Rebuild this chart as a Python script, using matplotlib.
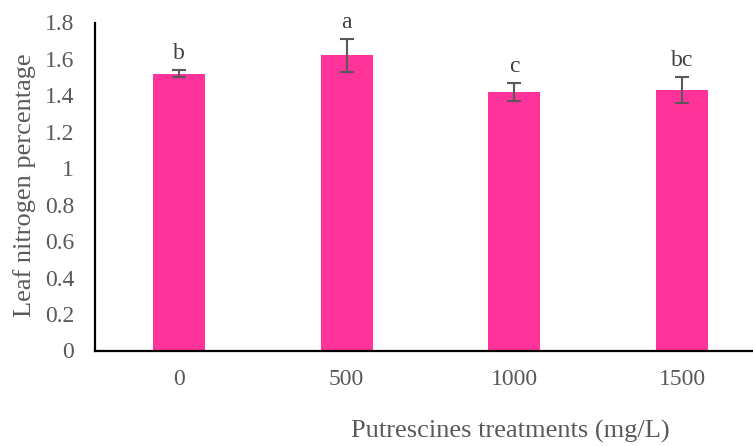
import matplotlib
matplotlib.use("Agg")
import matplotlib.pyplot as plt
import numpy as np

categories = ["0", "500", "1000", "1500"]
values = [1.52, 1.62, 1.42, 1.43]
errors = [0.02, 0.09, 0.05, 0.07]
letters = ["b", "a", "c", "bc"]
yticks = [0, 0.2, 0.4, 0.6, 0.8, 1, 1.2, 1.4, 1.6, 1.8]

plt.rcParams['font.family'] = ['Liberation Serif', 'DejaVu Serif']

W, H = 753, 446
fig = plt.figure(figsize=(W/100, H/100), dpi=100)
left, right, bottom, top = 95, 766, 350.5, 22.5
ax = fig.add_axes([left/W, (H-bottom)/H, (right-left)/W, (bottom-top)/H])

x = np.arange(len(categories))
ax.bar(x, values, width=0.31, color="#FF3399", zorder=2)
ax.errorbar(x, values, yerr=errors, fmt="none", ecolor="#595959",
            elinewidth=1.5, capsize=5, capthick=1.5, zorder=3)
for xi, v, e, t in zip(x, values, errors, letters):
    ax.annotate(t, (xi, v + e), xytext=(0, 8), textcoords="offset points",
                ha="center", va="baseline", fontsize=17, color="#404040")

ax.set_xlim(-0.5, len(categories) - 0.5)
ax.set_ylim(0, 1.8)
ax.set_yticks(yticks)
ax.set_yticklabels([f"{t:g}" for t in yticks])
ax.set_xticks(x)
ax.set_xticklabels(categories)
ax.tick_params(axis="both", length=0, labelsize=17, colors="#595959")
ax.tick_params(axis="x", pad=13)
ax.tick_params(axis="y", pad=15)
for s in ["top", "right"]:
    ax.spines[s].set_visible(False)
for s in ["left", "bottom"]:
    ax.spines[s].set_linewidth(1.6)
    ax.spines[s].set_color("black")

fig.text(510/W, 1 - 431/H, "Putrescines treatments (mg/L)", ha="center", va="center",
         fontsize=19, color="#595959")
fig.text(25/W, 1 - 185/H, "Leaf nitrogen percentage", ha="center", va="center",
         rotation=90, fontsize=19, color="#595959")

fig.savefig("out.png", dpi=100)
